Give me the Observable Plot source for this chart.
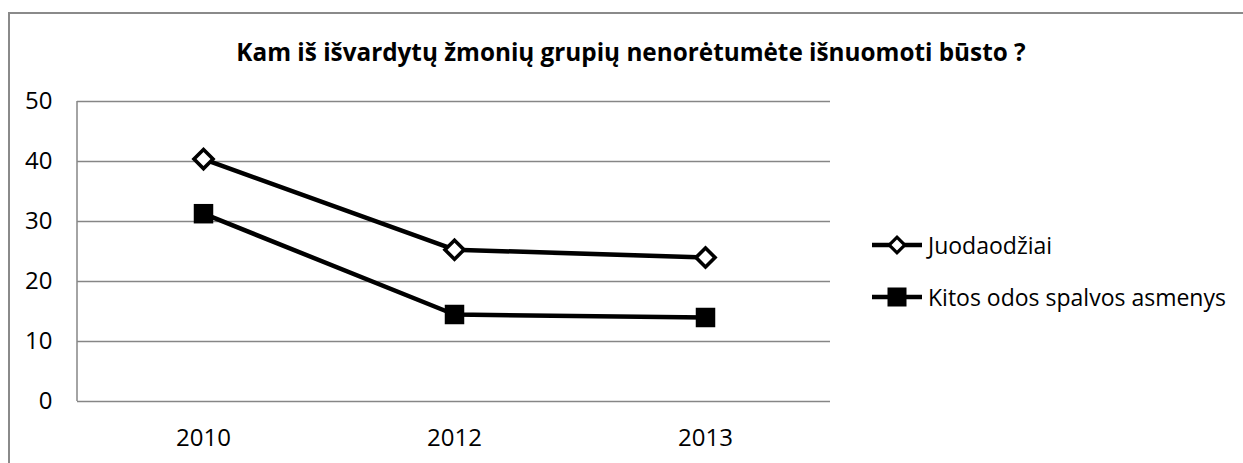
<!DOCTYPE html>
<html><head><meta charset="utf-8">
<script src="https://cdn.jsdelivr.net/npm/d3@7"></script>
<script src="https://cdn.jsdelivr.net/npm/@observablehq/plot@0.6"></script>
<style>
body{margin:0;background:#fff;}
#wrap{position:relative;width:1243px;height:463px;overflow:hidden;font-family:"Open Sans",sans-serif;color:#000;}
#frame{position:absolute;left:8px;top:12px;width:1300px;height:500px;border-left:2px solid #8a8a8a;border-top:2px solid #8a8a8a;}
#title{position:absolute;left:0;top:35px;width:1262px;text-align:center;font-weight:bold;font-size:24.3px;white-space:nowrap;}
#chart{position:absolute;left:0;top:0;}
.lg{position:absolute;left:870px;height:30px;display:flex;align-items:center;font-size:23px;white-space:nowrap;}
.lg svg{margin-right:4px;}
</style>
</head><body>
<div id="wrap">
  <div id="frame"></div>
  <div id="chart"></div>
  <div id="title"></div>
  <div id="legend"></div>
</div>
<script>
const title = "Kam iš išvardytų žmonių grupių nenorėtumėte išnuomoti būsto ?";
const years = ["2010", "2012", "2013"];
const juodaodziai = [40.4, 25.3, 24.0];
const kitos = [31.3, 14.5, 14.0];
const yTicks = [0, 10, 20, 30, 40, 50];
const seriesNames = ["Juodaodžiai", "Kitos odos spalvos asmenys"];

const rowsA = years.map((y, i) => ({year: y, value: juodaodziai[i]}));
const rowsB = years.map((y, i) => ({year: y, value: kitos[i]}));

document.getElementById("title").textContent = title;

const gray = "#868686";

const leftAxisLine = (index, scales, values, dimensions) => {
  const {marginLeft, marginTop, height, marginBottom} = dimensions;
  const g = d3.create("svg:line")
    .attr("x1", marginLeft).attr("x2", marginLeft)
    .attr("y1", marginTop).attr("y2", height - marginBottom)
    .attr("stroke", gray).attr("stroke-width", 1.5);
  return g.node();
};

const chart = Plot.plot({
  width: 1243,
  height: 463,
  marginLeft: 77,
  marginRight: 413,
  marginTop: 101,
  marginBottom: 62,
  style: {fontFamily: "Open Sans", fontSize: "24px", color: "#000", background: "transparent"},
  x: {type: "point", domain: years, padding: 0.5, label: null},
  y: {domain: [0, 50], label: null},
  marks: [
    Plot.gridY(yTicks, {stroke: gray, strokeOpacity: 1, strokeWidth: 1.5}),
    leftAxisLine,
    Plot.axisY(yTicks, {tickSize: 0, tickPadding: 25, fontSize: 24}),
    Plot.axisX({tickSize: 0, tickPadding: 27, fontSize: 24}),
    Plot.line(rowsB, {x: "year", y: "value", stroke: "#000", strokeWidth: 4.5}),
    Plot.line(rowsA, {x: "year", y: "value", stroke: "#000", strokeWidth: 4.5}),
    Plot.dot(rowsB, {x: "year", y: "value", symbol: "square", r: 11, fill: "#000", stroke: "none"}),
    Plot.dot(rowsA, {x: "year", y: "value", symbol: "square", rotate: 45, r: 7.6, fill: "#fff", stroke: "#000", strokeWidth: 3.6})
  ]
});
document.getElementById("chart").appendChild(chart);

// legend
const legend = document.getElementById("legend");
const tops = [230, 282];
seriesNames.forEach((name, i) => {
  const row = document.createElement("div");
  row.className = "lg";
  row.style.top = tops[i] + "px";
  const s = d3.create("svg").attr("width", 54).attr("height", 30);
  s.append("line").attr("x1", 2).attr("x2", 52).attr("y1", 15).attr("y2", 15)
    .attr("stroke", "#000").attr("stroke-width", 4.5);
  if (i === 0) {
    s.append("rect").attr("x", -5.5).attr("y", -5.5).attr("width", 11).attr("height", 11)
      .attr("transform", "translate(27,15) rotate(45)")
      .attr("fill", "#fff").attr("stroke", "#000").attr("stroke-width", 3.2);
  } else {
    s.append("rect").attr("x", 17.5).attr("y", 5.5).attr("width", 19).attr("height", 19).attr("fill", "#000");
  }
  row.appendChild(s.node());
  const t = document.createElement("span");
  t.textContent = name;
  row.appendChild(t);
  legend.appendChild(row);
});
</script>
</body></html>
